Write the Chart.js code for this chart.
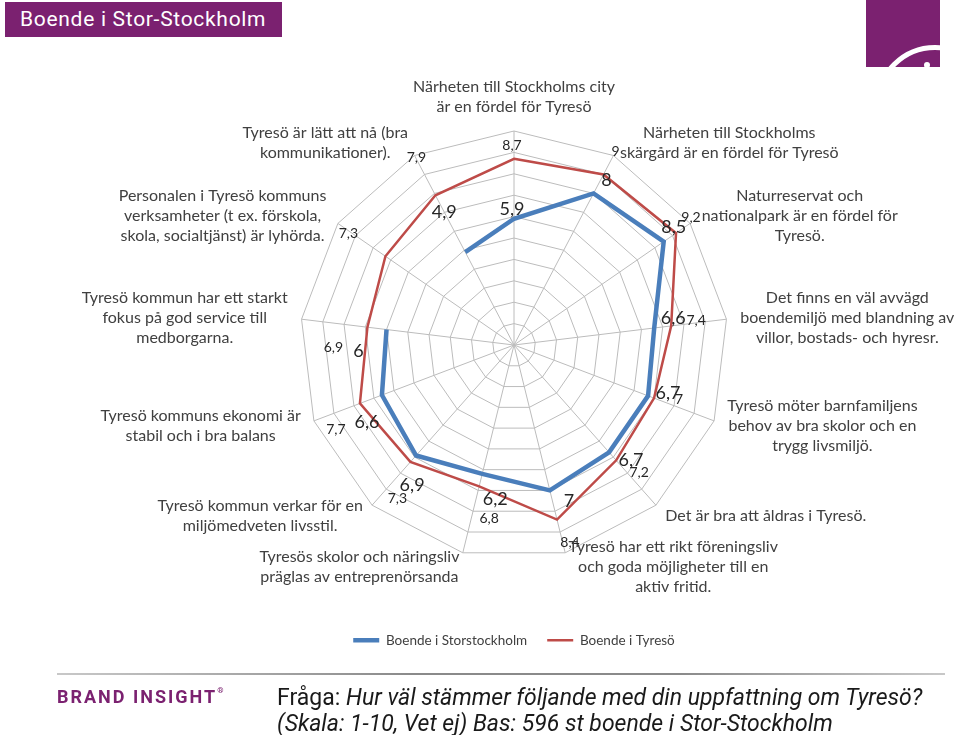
<!DOCTYPE html>
<html>
<head>
<meta charset="utf-8">
<script src="https://cdn.jsdelivr.net/npm/chart.js@4.4.1/dist/chart.umd.min.js"></script>
<style>
  html, body { margin: 0; padding: 0; background: #fff; }
  body { width: 960px; height: 735px; position: relative; overflow: hidden; }
  #radar { position: absolute; left: 0; top: 0; }
  .title {
    position: absolute; left: 5px; top: 2px; width: 277px; height: 35px;
    background: #7b2170; color: #fff; box-sizing: border-box; padding-left: 15px;
    font-family: Roboto, sans-serif; font-size: 21px; line-height: 35px; letter-spacing: 0.7px;
  }
  .logo { position: absolute; left: 866px; top: 0; width: 74px; height: 67px; background: #7b2170; overflow: hidden; }
  .logo .arc {
    position: absolute; left: 9px; top: 45px; width: 120px; height: 120px;
    border: 5px solid #fff; border-radius: 50%; box-sizing: border-box;
  }
  .logo .dot { position: absolute; left: 58px; top: 62px; width: 6px; height: 6px; background: #fff; border-radius: 50%; }
  .rule {
    position: absolute; left: 57px; top: 673px; width: 888px; height: 2px;
    background: linear-gradient(to right, #c8c8c8, #8a8a8a 40%, #8a8a8a 70%, #c8c8c8);
  }
  .brand {
    position: absolute; left: 57px; top: 686px; color: #7b2170;
    font-family: Roboto, sans-serif; font-weight: bold; font-size: 18px; letter-spacing: 2px;
  }
  .brand sup { font-size: 8px; position: relative; top: -3px; margin-left: 0; }
  .question {
    position: absolute; left: 277px; top: 685px; color: #1a1a1a;
    font-family: Roboto, sans-serif; font-size: 23px; line-height: 26px; white-space: nowrap;
  }
  .question i { font-style: italic; }
</style>
</head>
<body>
<div class="title">Boende i Stor-Stockholm</div>
<div class="logo"><div class="arc"></div><div class="dot"></div></div>
<canvas id="radar" width="960" height="735"></canvas>
<div class="rule"></div>
<div class="brand">BRAND INSIGHT<sup>®</sup></div>
<div class="question">Fråga: <i>Hur väl stämmer följande med din uppfattning om Tyresö?</i><br><i>(Skala: 1-10, Vet ej) Bas: 596 st boende i Stor-Stockholm</i></div>

<script>
// statements, clockwise from the top
const axisLabels = [
  ["Närheten till Stockholms city", "är en fördel för Tyresö"],
  ["Närheten till Stockholms", "skärgård är en fördel för Tyresö"],
  ["Naturreservat och", "nationalpark är en fördel för", "Tyresö."],
  ["Det finns en väl avvägd", "boendemiljö med blandning av", "villor, bostads- och hyresr."],
  ["Tyresö möter barnfamiljens", "behov av bra skolor och en", "trygg livsmiljö."],
  ["Det är bra att åldras i Tyresö."],
  ["Tyresö har ett rikt föreningsliv", "och goda möjligheter till en", "aktiv fritid."],
  ["Tyresös skolor och näringsliv", "präglas av entreprenörsanda"],
  ["Tyresö kommun verkar för en", "miljömedveten livsstil."],
  ["Tyresö kommuns ekonomi är", "stabil och i bra balans"],
  ["Tyresö kommun har ett starkt", "fokus på god service till", "medborgarna."],
  ["Personalen i Tyresö kommuns", "verksamheter (t ex. förskola,", "skola, socialtjänst) är lyhörda."],
  ["Tyresö är lätt att nå (bra", "kommunikationer)."]
];

const seriesNames = ["Boende i Storstockholm", "Boende i Tyresö"];
const storstockholm = [5.9, 8, 8.5, 6.6, 6.7, 6.7, 7, 6.2, 6.9, 6.6, 6, null, 4.9];
const tyreso = [8.7, 9, 9.2, 7.4, 7, 7.2, 8.4, 6.8, 7.3, 7.7, 6.9, 7.3, 7.9];

// hand placed value labels in the original, offsets from the point
const blueNudge = [[-2,-10],[13,-13],[10,-14],[19,-10],[20,-3],[22,8],[19,11],[13,25],[-4,30],[-15,27],[-28,22],[0,0],[-21,-40]];
const redNudge = [[-2,-13],[12,-23],[15,-16],[25,-5],[25,1],[23,12],[13,23],[10,32],[-13,37],[-24,26],[-34,20],[-37,-23],[-19,-38]];

const FONT = "Lato, 'Open Sans', sans-serif";

const axisLabelPlugin = {
  id: 'axisLabels',
  afterDraw(chart) {
    const scale = chart.scales.r;
    const ctx = chart.ctx;
    const lh = 20;
    ctx.save();
    ctx.font = '16px ' + FONT;
    ctx.fillStyle = '#404040';
    ctx.textAlign = 'center';
    ctx.textBaseline = 'middle';
    axisLabels.forEach((lines, i) => {
      const p = scale.getPointPosition(i, scale.drawingArea + 14);
      const w = Math.max(...lines.map(t => ctx.measureText(t).width));
      const h = lines.length * lh;
      const c = Math.cos(p.angle);
      let cx, top;
      if (Math.abs(c) < 0.05) {
        cx = p.x;
        top = Math.sin(p.angle) < 0 ? p.y - h : p.y;
      } else {
        cx = c > 0 ? p.x + w / 2 : p.x - w / 2;
        top = p.y - h / 2;
      }
      lines.forEach((t, k) => ctx.fillText(t, cx, top + lh * (k + 0.5)));
    });
    ctx.restore();
  }
};

const valueLabelPlugin = {
  id: 'valueLabels',
  afterDatasetsDraw(chart) {
    const scale = chart.scales.r;
    const ctx = chart.ctx;
    const styles = [
      { data: storstockholm, nudge: blueNudge, size: 18 },
      { data: tyreso, nudge: redNudge, size: 14 }
    ];
    ctx.save();
    ctx.fillStyle = '#262626';
    ctx.textAlign = 'center';
    ctx.textBaseline = 'middle';
    styles.forEach(s => {
      ctx.font = s.size + 'px ' + FONT;
      s.data.forEach((v, i) => {
        if (v === null) return;
        const p = scale.getPointPositionForValue(i, v);
        ctx.fillText(String(v).replace('.', ','), p.x + s.nudge[i][0], p.y + s.nudge[i][1]);
      });
    });
    ctx.restore();
  }
};

new Chart(document.getElementById('radar').getContext('2d'), {
  type: 'radar',
  data: {
    labels: axisLabels.map(l => l.join(' ')),
    datasets: [
      {
        label: seriesNames[0],
        data: storstockholm,
        borderColor: '#4a7ebb',
        backgroundColor: '#4a7ebb',
        borderWidth: 4.5,
        pointRadius: 0,
        fill: false,
        spanGaps: false
      },
      {
        label: seriesNames[1],
        data: tyreso,
        borderColor: '#be4b48',
        backgroundColor: '#be4b48',
        borderWidth: 2.5,
        pointRadius: 0,
        fill: false
      }
    ]
  },
  options: {
    responsive: false,
    animation: false,
    layout: { padding: { top: 131, bottom: 78, left: 100, right: 32 } },
    scales: {
      r: {
        min: 0,
        max: 10,
        ticks: { display: false, stepSize: 1 },
        grid: { color: '#bcbcbc', lineWidth: 1 },
        angleLines: { color: '#bcbcbc', lineWidth: 1 },
        pointLabels: { display: false }
      }
    },
    plugins: {
      tooltip: { enabled: false },
      legend: {
        position: 'bottom',
        title: { display: true, text: '', padding: { top: 0, bottom: 39 } },
        labels: {
          usePointStyle: true,
          pointStyle: 'line',
          pointStyleWidth: 26,
          padding: 20,
          color: '#404040',
          font: { family: FONT, size: 13.5 }
        }
      }
    }
  },
  plugins: [axisLabelPlugin, valueLabelPlugin]
});
</script>
</body>
</html>
